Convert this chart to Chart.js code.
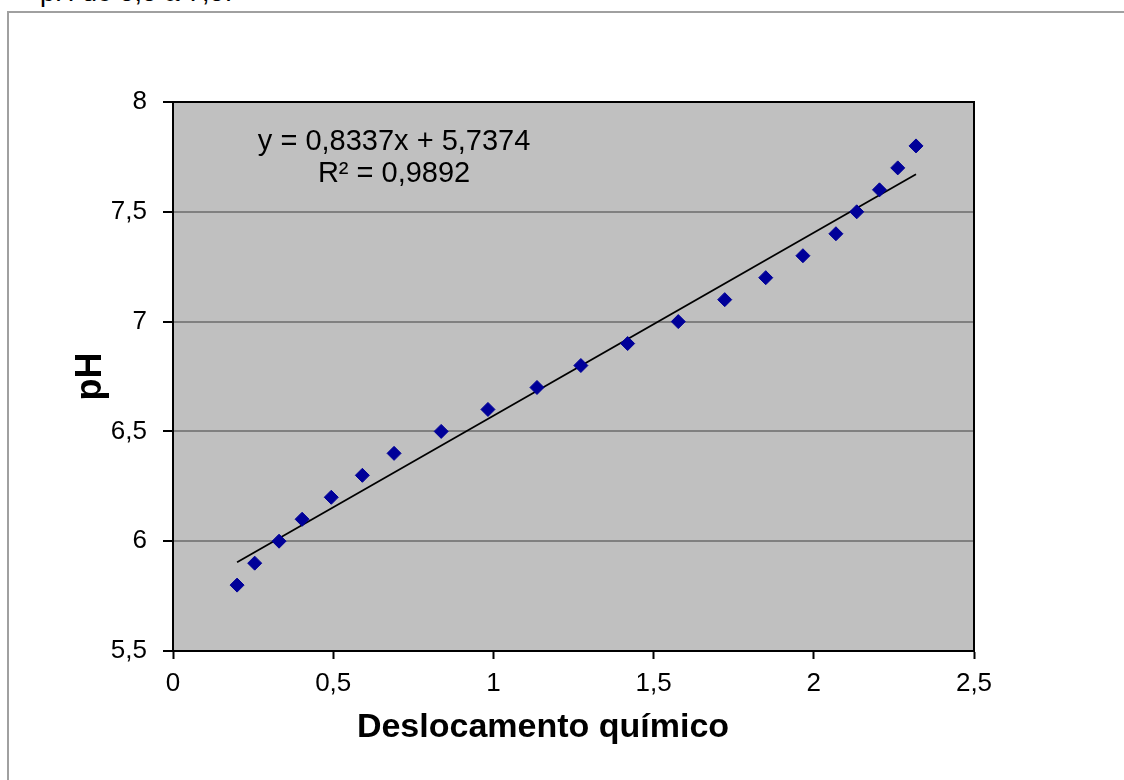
<!DOCTYPE html>
<html>
<head>
<meta charset="utf-8">
<script src="https://cdn.jsdelivr.net/npm/chart.js@4.4.1/dist/chart.umd.min.js"></script>
<style>
  html, body { margin: 0; padding: 0; background: #fff; overflow: hidden; }
  #wrap { position: relative; width: 1124px; height: 780px; }
  #frame { position: absolute; left: 7px; top: 11px; width: 1200px; height: 900px;
           border-left: 2px solid #a0a0a0; border-top: 2px solid #a0a0a0; }
  #cut { position: absolute; left: 40px; top: -23px; font: 27px "Liberation Sans", Arial, sans-serif; color: #000; white-space: nowrap; }
  canvas { position: absolute; left: 0; top: 0; }
</style>
</head>
<body>
<div id="wrap">
  <div id="cut">pH de 5,5 a 7,5.</div>
  <div id="frame"></div>
  <canvas id="c" width="1124" height="780"></canvas>
</div>
<script>
// ---- data ----
const shifts = [0.200, 0.255, 0.331, 0.403, 0.494, 0.591, 0.690, 0.837, 0.983, 1.136,
                1.273, 1.419, 1.577, 1.722, 1.850, 1.966, 2.069, 2.134, 2.205, 2.262, 2.319];
const phValues = [5.8, 5.9, 6.0, 6.1, 6.2, 6.3, 6.4, 6.5, 6.6, 6.7,
                  6.8, 6.9, 7.0, 7.1, 7.2, 7.3, 7.4, 7.5, 7.6, 7.7, 7.8];
const xTicks = [0, 0.5, 1, 1.5, 2, 2.5];
const yTicks = [5.5, 6, 6.5, 7, 7.5, 8];
const trendSlope = 0.8337;
const trendIntercept = 5.7374;
const equationText = ["y = 0,8337x + 5,7374", "R² = 0,9892"];
const xTitle = "Deslocamento químico";
const yTitle = "pH";

const points = shifts.map((x, i) => ({ x: x, y: phValues[i] }));
const xMin = Math.min(...shifts), xMax = Math.max(...shifts);
const trend = [xMin, xMax].map(x => ({ x: x, y: trendSlope * x + trendIntercept }));
const fmt = v => String(v).replace('.', ',');

const FONT = '"Liberation Sans", Arial, sans-serif';

const plotDeco = {
  id: 'plotDeco',
  beforeDraw(chart) {
    const { ctx, chartArea: a } = chart;
    ctx.save();
    ctx.fillStyle = '#c0c0c0';
    ctx.fillRect(a.left, a.top, a.right - a.left, a.bottom - a.top);
    ctx.restore();
  },
  afterDraw(chart) {
    const { ctx, chartArea: a, scales } = chart;
    ctx.save();
    ctx.strokeStyle = '#000';
    ctx.lineWidth = 2;
    ctx.strokeRect(a.left, a.top, a.right - a.left, a.bottom - a.top);
    // equation label
    ctx.fillStyle = '#000';
    ctx.font = '29px ' + FONT;
    ctx.textAlign = 'center';
    ctx.textBaseline = 'middle';
    const ex = scales.x.getPixelForValue(0.69);
    ctx.fillText(equationText[0], ex, a.top + 40);
    ctx.fillText(equationText[1], ex, a.top + 72);
    // axis titles
    ctx.font = 'bold 34px ' + FONT;
    ctx.textBaseline = 'alphabetic';
    ctx.fillText(xTitle, a.left + 370, a.bottom + 86);
    ctx.translate(a.left - 82, (a.top + a.bottom) / 2);
    ctx.rotate(-Math.PI / 2);
    ctx.font = 'bold 36px ' + FONT;
    ctx.textBaseline = 'middle';
    ctx.fillText(yTitle, 0, 0);
    ctx.restore();
  }
};

new Chart(document.getElementById('c'), {
  type: 'scatter',
  data: {
    datasets: [
      {
        label: 'pH',
        data: points,
        pointStyle: 'rectRot',
        pointRadius: 7,
        pointHoverRadius: 7,
        backgroundColor: '#000099',
        borderColor: '#000099',
        borderWidth: 1,
        order: 1
      },
      {
        label: 'Tendência',
        type: 'line',
        data: trend,
        borderColor: '#000',
        borderWidth: 1.8,
        pointRadius: 0,
        fill: false,
        order: 2
      }
    ]
  },
  options: {
    responsive: false,
    animation: false,
    devicePixelRatio: 1,
    layout: { padding: { left: 0, top: 102, right: 150, bottom: 0 } },
    plugins: { legend: { display: false }, tooltip: { enabled: false }, title: { display: false } },
    scales: {
      x: {
        type: 'linear',
        min: 0, max: 2.5,
        afterBuildTicks: s => { s.ticks = xTicks.map(v => ({ value: v })); },
        afterFit: s => { s.height = 129; },
        ticks: { callback: fmt, color: '#000', font: { family: FONT, size: 26 }, padding: 9, maxRotation: 0 },
        grid: { drawOnChartArea: false, tickLength: 8, tickColor: '#000', tickWidth: 2 },
        border: { color: '#000', width: 2 }
      },
      y: {
        type: 'linear',
        min: 5.5, max: 8,
        afterBuildTicks: s => { s.ticks = yTicks.map(v => ({ value: v })); },
        afterFit: s => { s.width = 173; },
        ticks: { callback: fmt, color: '#000', font: { family: FONT, size: 26 }, padding: 16 },
        grid: { color: '#808080', lineWidth: 2, tickLength: 10, tickColor: '#000', tickWidth: 2 },
        border: { color: '#000', width: 2 }
      }
    }
  },
  plugins: [plotDeco]
});
</script>
</body>
</html>
